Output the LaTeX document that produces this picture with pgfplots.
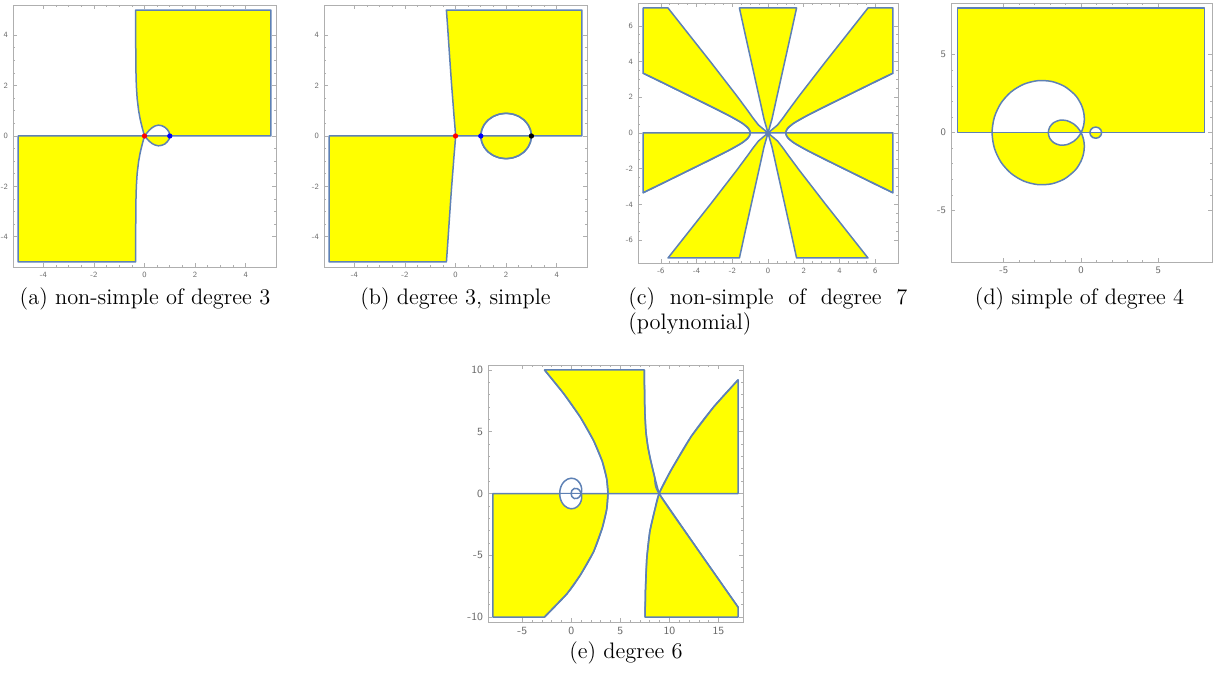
\documentclass[border=0pt]{standalone}
\usepackage{fontspec}
\usepackage{pgfplots}
\pgfplotsset{compat=1.18}

\definecolor{edge}{RGB}{94,129,181}
\definecolor{yel}{RGB}{255,255,0}
\definecolor{framec}{RGB}{175,175,175}
\definecolor{tickc}{RGB}{105,105,105}

\pgfplotsset{
  mma/.style={
    scale only axis, anchor=north west,
    axis line style={framec, line width=0.4pt},
    tick style={framec, line width=0.35pt},
    major tick length=2.2pt, minor tick length=1.2pt,
    tick label style={font=\sffamily\fontsize{4}{4}\selectfont, text=tickc},
    xticklabel style={yshift=1pt}, yticklabel style={xshift=1pt},
    /pgf/number format/assume math mode=true,
  },
  reg/.style={draw=edge, fill=yel, line width=0.75pt, line join=round},
  hole/.style={draw=edge, fill=white, line width=0.75pt, line join=round},
  crv/.style={draw=edge, line width=0.75pt, smooth, line join=round},
}

\begin{document}
\begin{tikzpicture}
\useasboundingbox (0,0) rectangle (606.5pt,-336.5pt);

% (a) non-simple, degree 3
\begin{axis}[mma, at={(6.5pt,-2.5pt)}, width=131.5pt, height=131pt,
  xmin=-5.2, xmax=5.2, ymin=-5.2, ymax=5.2,
  xtick={-4,-2,0,2,4}, ytick={-4,-2,0,2,4}, minor tick num=3]
\addplot[reg] coordinates {(-0.35,5) (5,5) (5,0) (1,0) (0.97,0.15) (0.9,0.26) (0.8,0.35) (0.68,0.41) (0.55,0.43) (0.42,0.40) (0.3,0.33) (0.18,0.22) (0.08,0.1) (0,0)
  (-0.042,0.15) (-0.082,0.3) (-0.133,0.5) (-0.178,0.7) (-0.232,1) (-0.292,1.5) (-0.323,2) (-0.337,2.5) (-0.344,3) (-0.349,4)} -- cycle;
\addplot[reg] coordinates {(-5,0) (0,0) (-0.042,-0.15) (-0.082,-0.3) (-0.133,-0.5) (-0.178,-0.7) (-0.232,-1) (-0.292,-1.5) (-0.323,-2) (-0.337,-2.5) (-0.344,-3) (-0.349,-4) (-0.35,-5) (-5,-5)} -- cycle;
\addplot[reg] coordinates {(0,0) (0.08,-0.09) (0.18,-0.2) (0.3,-0.3) (0.42,-0.36) (0.55,-0.39) (0.68,-0.37) (0.8,-0.32) (0.9,-0.23) (0.97,-0.13) (1,0)} -- cycle;
\addplot[only marks, mark=*, mark size=1.1pt, red] coordinates {(0,0)};
\addplot[only marks, mark=*, mark size=1.1pt, blue] coordinates {(1,0)};
\end{axis}

% (b) degree 3, simple
\begin{axis}[mma, at={(162pt,-2.5pt)}, width=131.5pt, height=131pt,
  xmin=-5.2, xmax=5.2, ymin=-5.2, ymax=5.2,
  xtick={-4,-2,0,2,4}, ytick={-4,-2,0,2,4}, minor tick num=3]
\addplot[reg] coordinates {(-0.36,5) (5,5) (5,0) (3,0) (2.966,0.233) (2.866,0.45) (2.707,0.636) (2.5,0.779) (2.259,0.869) (2,0.9) (1.741,0.869) (1.5,0.779) (1.293,0.636) (1.134,0.45) (1.034,0.233) (1,0) (0,0)
  (-0.01,0.2) (-0.03,0.45) (-0.06,0.8) (-0.09,1.2) (-0.16,2.1) (-0.25,3.4) (-0.31,4.3)} -- cycle;
\addplot[reg] coordinates {(-5,0) (0,0) (-0.01,-0.2) (-0.03,-0.45) (-0.06,-0.8) (-0.09,-1.2) (-0.16,-2.1) (-0.25,-3.4) (-0.31,-4.3) (-0.36,-5) (-5,-5)} -- cycle;
\addplot[reg] coordinates {(1,0) (1.034,-0.233) (1.134,-0.45) (1.293,-0.636) (1.5,-0.779) (1.741,-0.869) (2,-0.9) (2.259,-0.869) (2.5,-0.779) (2.707,-0.636) (2.866,-0.45) (2.966,-0.233) (3,0)} -- cycle;
\addplot[crv] coordinates {(1,0) (1.034,0.233) (1.134,0.45) (1.293,0.636) (1.5,0.779) (1.741,0.869) (2,0.9) (2.259,0.869) (2.5,0.779) (2.707,0.636) (2.866,0.45) (2.966,0.233) (3,0) (2.966,-0.233) (2.866,-0.45) (2.707,-0.636) (2.5,-0.779) (2.259,-0.869) (2,-0.9) (1.741,-0.869) (1.5,-0.779) (1.293,-0.636) (1.134,-0.45) (1.034,-0.233) (1,0)};
\addplot[only marks, mark=*, mark size=1.1pt, red] coordinates {(0,0)};
\addplot[only marks, mark=*, mark size=1.1pt, blue] coordinates {(1,0)};
\addplot[only marks, mark=*, mark size=1.1pt, black] coordinates {(3,0)};
\end{axis}

% (c) non-simple of degree 7
\begin{axis}[mma, at={(319pt,-1.5pt)}, width=130pt, height=130pt,
  xmin=-7.28, xmax=7.28, ymin=-7.28, ymax=7.28,
  xtick={-6,-4,...,6}, ytick={-6,-4,...,6}, minor tick num=3]
\addplot[reg] coordinates {(7,3.35) (7,7) (5.6,7) (3.2,3.96) (1.764,2.103) (1.156,1.283) (0.837,0.837) (0.534,0.448) (0,0) (1,0) (1.012,0.089) (1.052,0.185) (1.143,0.306) (1.376,0.501) (1.607,0.649) (2.205,0.982) (3.29,1.53) (5.87,2.8)} -- cycle;
\addplot[reg] coordinates {(0,0) (0.222,0.773) (0.449,1.802) (1.305,5.65) (1.6,7) (-1.6,7) (-1.305,5.65) (-0.449,1.802) (-0.222,0.773)} -- cycle;
\addplot[reg] coordinates {(-7,3.35) (-7,7) (-5.6,7) (-3.2,3.96) (-1.764,2.103) (-1.156,1.283) (-0.837,0.837) (-0.534,0.448) (0,0) (-1,0) (-1.012,0.089) (-1.052,0.185) (-1.143,0.306) (-1.376,0.501) (-1.607,0.649) (-2.205,0.982) (-3.29,1.53) (-5.87,2.8)} -- cycle;
\addplot[reg] coordinates {(1,0) (7,0) (7,-3.35) (5.87,-2.8) (3.29,-1.53) (2.205,-0.982) (1.607,-0.649) (1.376,-0.501) (1.143,-0.306) (1.052,-0.185) (1.012,-0.089)} -- cycle;
\addplot[reg] coordinates {(0,0) (0.534,-0.448) (0.837,-0.837) (1.156,-1.283) (1.764,-2.103) (3.2,-3.96) (5.6,-7) (1.6,-7) (1.305,-5.65) (0.449,-1.802) (0.222,-0.773)} -- cycle;
\addplot[reg] coordinates {(0,0) (-0.534,-0.448) (-0.837,-0.837) (-1.156,-1.283) (-1.764,-2.103) (-3.2,-3.96) (-5.6,-7) (-1.6,-7) (-1.305,-5.65) (-0.449,-1.802) (-0.222,-0.773)} -- cycle;
\addplot[reg] coordinates {(-1,0) (-7,0) (-7,-3.35) (-5.87,-2.8) (-3.29,-1.53) (-2.205,-0.982) (-1.607,-0.649) (-1.376,-0.501) (-1.143,-0.306) (-1.052,-0.185) (-1.012,-0.089)} -- cycle;
\addplot[crv] coordinates {(7,3.35) (5.87,2.8) (3.29,1.53) (2.205,0.982) (1.607,0.649) (1.376,0.501) (1.143,0.306) (1.052,0.185) (1.012,0.089) (1,0) (1.012,-0.089) (1.052,-0.185) (1.143,-0.306) (1.376,-0.501) (1.607,-0.649) (2.205,-0.982) (3.29,-1.53) (5.87,-2.8) (7,-3.35)};
\addplot[crv] coordinates {(-7,3.35) (-5.87,2.8) (-3.29,1.53) (-2.205,0.982) (-1.607,0.649) (-1.376,0.501) (-1.143,0.306) (-1.052,0.185) (-1.012,0.089) (-1,0) (-1.012,-0.089) (-1.052,-0.185) (-1.143,-0.306) (-1.376,-0.501) (-1.607,-0.649) (-2.205,-0.982) (-3.29,-1.53) (-5.87,-2.8) (-7,-3.35)};
\addplot[only marks, mark=*, mark size=1.2pt, edge] coordinates {(0,0)};
\end{axis}

% (d) simple of degree 4
\begin{axis}[mma, at={(475.5pt,-1.5pt)}, width=130.5pt, height=129.5pt,
  xmin=-8.42, xmax=8.48, ymin=-8.3, ymax=8.32,
  xtick={-5,0,5}, ytick={-5,0,5}, minor tick num=4,
  tick label style={font=\sffamily\fontsize{5}{5}\selectfont}]
\addplot[reg] coordinates {(-8,0) (8,0) (8,8) (-8,8)} -- cycle;
\addplot[fill=white, draw=none] coordinates {(0,0) (0.066,0.140) (0.162,0.444) (0.207,0.773) (0.197,1.119) (0.129,1.471) (0,1.82) (-0.189,2.155) (-0.435,2.466) (-1.083,2.976) (-1.895,3.282) (-2.798,3.335) (-3.706,3.110) (-4.531,2.616) (-5.189,1.889) (-5.613,0.990) (-5.76,0)} -- cycle;
\addplot[fill=yel, draw=none] coordinates {(-2.12,0) (-2.029,0.358) (-1.769,0.644) (-1.379,0.796) (-0.918,0.770) (-0.458,0.546) (-0.252,0.360) (-0.075,0.130) (0,0)} -- cycle;
\addplot[fill=white, draw=none] coordinates {(1.33,0) (1.279,0.18) (1.14,0.312) (0.95,0.36) (0.76,0.312) (0.621,0.18) (0.57,0)} -- cycle;
\addplot[fill=yel, draw=none] coordinates {(0,0) (0.066,-0.140) (0.162,-0.444) (0.207,-0.773) (0.197,-1.119) (0.129,-1.471) (0,-1.82) (-0.189,-2.155) (-0.435,-2.466) (-1.083,-2.976) (-1.895,-3.282) (-2.798,-3.335) (-3.706,-3.110) (-4.531,-2.616) (-5.189,-1.889) (-5.613,-0.990) (-5.76,0)} -- cycle;
\addplot[fill=white, draw=none] coordinates {(-2.12,0) (-2.029,-0.358) (-1.769,-0.644) (-1.379,-0.796) (-0.918,-0.770) (-0.458,-0.546) (-0.252,-0.360) (-0.075,-0.130) (0,0)} -- cycle;
\addplot[fill=yel, draw=none] coordinates {(1.33,0) (1.279,-0.18) (1.14,-0.312) (0.95,-0.36) (0.76,-0.312) (0.621,-0.18) (0.57,0)} -- cycle;
\addplot[draw=edge, line width=0.75pt] coordinates {(-8,0) (8,0)};
\addplot[crv] coordinates {(0,0) (0.066,0.140) (0.162,0.444) (0.207,0.773) (0.197,1.119) (0.129,1.471) (0,1.82) (-0.189,2.155) (-0.435,2.466) (-1.083,2.976) (-1.895,3.282) (-2.798,3.335) (-3.706,3.110) (-4.531,2.616) (-5.189,1.889) (-5.613,0.990) (-5.76,0)
  (-5.613,-0.990) (-5.189,-1.889) (-4.531,-2.616) (-3.706,-3.110) (-2.798,-3.335) (-1.895,-3.282) (-1.083,-2.976) (-0.435,-2.466) (-0.189,-2.155) (0,-1.82) (0.129,-1.471) (0.197,-1.119) (0.207,-0.773) (0.162,-0.444) (0.066,-0.140) (0,0)};
\addplot[crv] coordinates {(0,0) (-0.075,0.130) (-0.252,0.360) (-0.458,0.546) (-0.918,0.770) (-1.379,0.796) (-1.769,0.644) (-2.029,0.358) (-2.12,0) (-2.029,-0.358) (-1.769,-0.644) (-1.379,-0.796) (-0.918,-0.770) (-0.458,-0.546) (-0.252,-0.360) (-0.075,-0.130) (0,0)};
\addplot[crv] coordinates {(1.33,0) (1.279,0.18) (1.14,0.312) (0.95,0.36) (0.76,0.312) (0.621,0.18) (0.57,0) (0.621,-0.18) (0.76,-0.312) (0.95,-0.36) (1.14,-0.312) (1.279,-0.18) (1.33,0)};
\end{axis}

% (e) degree 6
\begin{axis}[mma, at={(244pt,-182.5pt)}, width=127.5pt, height=128.5pt,
  xmin=-8.5, xmax=17.5, ymin=-10.4, ymax=10.4,
  xtick={-5,0,5,10,15}, ytick={-10,-5,0,5,10}, minor tick num=4,
  tick label style={font=\sffamily\fontsize{5.5}{5.5}\selectfont}]
\addplot[reg] coordinates {(-2.74,10) (7.45,10) (7.46,8) (7.5,6.5) (7.6,5) (7.8,3.8) (8.05,2.8) (8.5,1.3) (8.94,0) (3.73,0) (3.6,1.2) (3.15,2.6) (2.27,4.27) (0.91,6.18) (-0.78,8.08)} -- cycle;
\addplot[reg] coordinates {(8.94,0) (10.1,1.8) (12.2,4.6) (14.5,7.0) (17,9.2) (17,0)} -- cycle;
\addplot[reg] coordinates {(8.94,0) (12.9,-4.55) (17,-9.2) (17,-10) (7.52,-10) (7.55,-7.97) (7.69,-5.25) (8.0,-3.07) (8.47,-1.44)} -- cycle;
\addplot[reg] coordinates {(-8,0) (3.73,0) (3.6,-1.3) (3.15,-2.8) (2.27,-4.71) (0.91,-6.61) (-0.44,-8.11) (-2.74,-10) (-8,-10)} -- cycle;
\addplot[crv] coordinates {(-2.74,10) (-0.78,8.08) (0.91,6.18) (2.27,4.27) (3.15,2.6) (3.6,1.2) (3.73,0) (3.6,-1.3) (3.15,-2.8) (2.27,-4.71) (0.91,-6.61) (-0.44,-8.11) (-2.74,-10)};
\addplot[crv] coordinates {(7.45,10) (7.46,8) (7.5,6.5) (7.6,5) (7.8,3.8) (8.05,2.8) (8.5,1.3) (8.94,0) (12.9,-4.55) (17,-9.2)};
\addplot[crv] coordinates {(17,9.2) (14.5,7.0) (12.2,4.6) (10.1,1.8) (8.94,0) (8.47,-1.44) (8.0,-3.07) (7.69,-5.25) (7.55,-7.97) (7.52,-10)};
\addplot[fill=white, draw=none] coordinates {(1,0) (1.042,-0.158) (1.052,-0.296) (1.038,-0.438) (1,-0.58) (0.851,-0.846) (0.613,-1.063) (0.308,-1.199) (-0.038,-1.237) (-0.389,-1.165) (-0.710,-0.987) (-0.967,-0.716) (-1.133,-0.376) (-1.19,0)} -- cycle;
\addplot[draw=edge, line width=0.75pt] coordinates {(-1.5,0) (1.5,0)};
\addplot[crv] coordinates {(1,0) (1.042,0.158) (1.052,0.296) (1.038,0.438) (1,0.58) (0.851,0.846) (0.613,1.063) (0.308,1.199) (-0.038,1.237) (-0.389,1.165) (-0.710,0.987) (-0.967,0.716) (-1.133,0.376) (-1.19,0)
  (-1.133,-0.376) (-0.967,-0.716) (-0.710,-0.987) (-0.389,-1.165) (-0.038,-1.237) (0.308,-1.199) (0.613,-1.063) (0.851,-0.846) (1,-0.58) (1.038,-0.438) (1.052,-0.296) (1.042,-0.158) (1,0)};
\addplot[crv] coordinates {(1,0) (0.917,0.155) (0.803,0.281) (0.605,0.395) (0.295,0.407) (0.058,0.252) (-0.03,0) (0.058,-0.252) (0.295,-0.407) (0.605,-0.395) (0.803,-0.281) (0.917,-0.155) (1,0)};
\end{axis}

\begin{scope}[every node/.style={font=\fontsize{11.2pt}{13.4pt}\selectfont, inner sep=0pt}]
\node[anchor=base] at (72.5pt,-152.5pt) {(a) non-simple of degree 3};
\node[anchor=base] at (227.75pt,-152.5pt) {(b) degree 3, simple};
\node[anchor=base west] at (314pt,-152.5pt) {\makebox[139.5pt][s]{(c) non-simple of degree 7}};
\node[anchor=base west] at (314pt,-164.5pt) {(polynomial)};
\node[anchor=base] at (539.75pt,-152.5pt) {(d) simple of degree 4};
\node[anchor=base] at (313pt,-329pt) {(e) degree 6};
\end{scope}
\end{tikzpicture}
\end{document}
